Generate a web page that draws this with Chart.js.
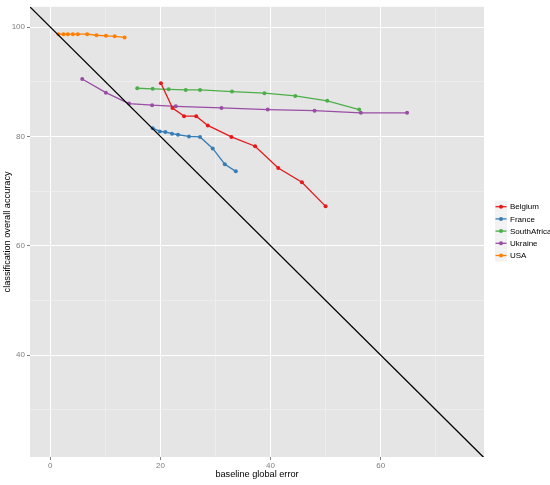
<!DOCTYPE html>
<html>
<head>
<meta charset="utf-8">
<script src="https://cdn.jsdelivr.net/npm/chart.js@4/dist/chart.umd.min.js"></script>
<style>
  html, body { margin: 0; padding: 0; background: #fff; }
  #wrap { width: 550px; height: 485px; }
</style>
</head>
<body>
<div id="wrap"><canvas id="chartCanvas"></canvas></div>
<script>
// series: baseline global error (x) vs classification overall accuracy (y)
var belgiumX = [20.1, 22.2, 24.3, 26.5, 28.6, 32.9, 37.2, 41.4, 45.7, 50.0];
var belgiumY = [89.7, 85.2, 83.7, 83.7, 82.0, 79.9, 78.2, 74.2, 71.6, 67.2];
var franceX = [18.6, 19.9, 20.9, 22.1, 23.2, 25.2, 27.2, 29.5, 31.7, 33.7];
var franceY = [81.5, 80.9, 80.8, 80.5, 80.3, 80.0, 79.9, 77.8, 74.9, 73.6];
var southAfricaX = [15.8, 18.6, 21.5, 24.6, 27.2, 33.0, 38.9, 44.5, 50.3, 56.1];
var southAfricaY = [88.8, 88.7, 88.6, 88.5, 88.5, 88.2, 87.9, 87.4, 86.5, 84.9];
var ukraineX = [5.8, 10.1, 14.3, 18.5, 22.8, 31.1, 39.5, 48.0, 56.4, 64.8];
var ukraineY = [90.5, 88.0, 86.0, 85.7, 85.5, 85.2, 84.9, 84.7, 84.3, 84.3];
var usaX = [1.5, 2.4, 3.2, 4.1, 5.0, 6.7, 8.4, 10.1, 11.7, 13.5];
var usaY = [98.7, 98.7, 98.7, 98.7, 98.7, 98.7, 98.5, 98.4, 98.3, 98.1];

var countries = ['Belgium', 'France', 'SouthAfrica', 'Ukraine', 'USA'];
var colors = ['#E41A1C', '#377EB8', '#4DAF4A', '#984EA3', '#FF7F00'];

var xTicks = [0, 10, 20, 30, 40, 50, 60, 70];
var yTicks = [30, 40, 50, 60, 70, 80, 90, 100];
var xLimits = [-3.68, 78.77];
var yLimits = [21.36, 103.7];

function toPoints(xs, ys) {
  return xs.map(function(x, i) { return {x: x, y: ys[i]}; });
}

var seriesX = [belgiumX, franceX, southAfricaX, ukraineX, usaX];
var seriesY = [belgiumY, franceY, southAfricaY, ukraineY, usaY];

var datasets = countries.map(function(name, i) {
  return {
    label: name,
    data: toPoints(seriesX[i], seriesY[i]),
    borderColor: colors[i],
    backgroundColor: colors[i],
    borderWidth: 1.3,
    pointRadius: 2,
    pointBorderWidth: 0,
    pointBackgroundColor: colors[i],
    showLine: true,
    tension: 0
  };
});

// reference line y = 100 - x across the whole panel
datasets.unshift({
  label: 'ref',
  data: [{x: xLimits[0], y: 100 - xLimits[0]}, {x: xLimits[1], y: 100 - xLimits[1]}],
  borderColor: '#000000',
  borderWidth: 1.3,
  pointRadius: 0,
  showLine: true
});

var isMajor = function(v) { return v % 20 === 0; };

var panelBg = {
  id: 'panelBg',
  beforeDraw: function(chart) {
    var a = chart.chartArea, c = chart.ctx;
    c.save();
    c.fillStyle = '#E5E5E5';
    c.fillRect(a.left, a.top, a.right - a.left, a.bottom - a.top);
    c.restore();
  }
};

// ggplot style legend on the right
var sideLegend = {
  id: 'sideLegend',
  afterDraw: function(chart) {
    var c = chart.ctx;
    var step = 12.2;
    var y0 = 206.7;
    c.save();
    c.font = '8px "Liberation Sans", Arial, sans-serif';
    c.textBaseline = 'middle';
    countries.forEach(function(name, i) {
      var y = y0 + i * step;
      c.fillStyle = '#F2F2F2';
      c.fillRect(495, y - 6, 12, 12);
      c.strokeStyle = colors[i];
      c.lineWidth = 1.3;
      c.beginPath();
      c.moveTo(495.5, y);
      c.lineTo(506.5, y);
      c.stroke();
      c.fillStyle = colors[i];
      c.beginPath();
      c.arc(501, y, 2, 0, Math.PI * 2);
      c.fill();
      c.fillStyle = '#000000';
      c.fillText(name, 510, y + 0.5);
    });
    c.restore();
  }
};

var ctx = document.getElementById('chartCanvas').getContext('2d');
new Chart(ctx, {
  type: 'scatter',
  data: { datasets: datasets },
  plugins: [panelBg, sideLegend],
  options: {
    responsive: true,
    maintainAspectRatio: false,
    animation: false,
    layout: { padding: { top: 3, right: 66, left: 0, bottom: 0 } },
    plugins: {
      legend: { display: false },
      tooltip: { enabled: false }
    },
    scales: {
      x: {
        type: 'linear',
        min: xLimits[0],
        max: xLimits[1],
        afterBuildTicks: function(s) { s.ticks = xTicks.map(function(v) { return {value: v}; }); },
        afterFit: function(s) { s.height = 28; },
        border: { display: false },
        grid: {
          color: function(c) { return isMajor(c.tick.value) ? '#FFFFFF' : '#F2F2F2'; },
          lineWidth: function(c) { return isMajor(c.tick.value) ? 1 : 0.6; },
          tickColor: function(c) { return isMajor(c.tick.value) ? '#7F7F7F' : 'rgba(0,0,0,0)'; },
          tickLength: 3
        },
        ticks: {
          autoSkip: false,
          maxRotation: 0,
          padding: 1,
          color: '#7F7F7F',
          font: { family: '"Liberation Sans", Arial, sans-serif', size: 8 },
          callback: function(v) { return isMajor(v) ? String(v) : ''; }
        },
        title: {
          display: true,
          text: 'baseline global error',
          color: '#000000',
          padding: { top: 0, bottom: 5 },
          font: { family: '"Liberation Sans", Arial, sans-serif', size: 9.2 }
        }
      },
      y: {
        type: 'linear',
        min: yLimits[0],
        max: yLimits[1],
        afterBuildTicks: function(s) { s.ticks = yTicks.map(function(v) { return {value: v}; }); },
        afterFit: function(s) { s.width = 30; },
        border: { display: false },
        grid: {
          color: function(c) { return isMajor(c.tick.value) ? '#FFFFFF' : '#F2F2F2'; },
          lineWidth: function(c) { return isMajor(c.tick.value) ? 1 : 0.6; },
          tickColor: function(c) { return isMajor(c.tick.value) ? '#7F7F7F' : 'rgba(0,0,0,0)'; },
          tickLength: 3
        },
        ticks: {
          autoSkip: false,
          padding: 2,
          color: '#7F7F7F',
          font: { family: '"Liberation Sans", Arial, sans-serif', size: 8 },
          callback: function(v) { return isMajor(v) ? String(v) : ''; }
        },
        title: {
          display: true,
          text: 'classification overall accuracy',
          color: '#000000',
          padding: { top: 1.5, bottom: 0 },
          font: { family: '"Liberation Sans", Arial, sans-serif', size: 9.2 }
        }
      }
    }
  }
});
</script>
</body>
</html>
